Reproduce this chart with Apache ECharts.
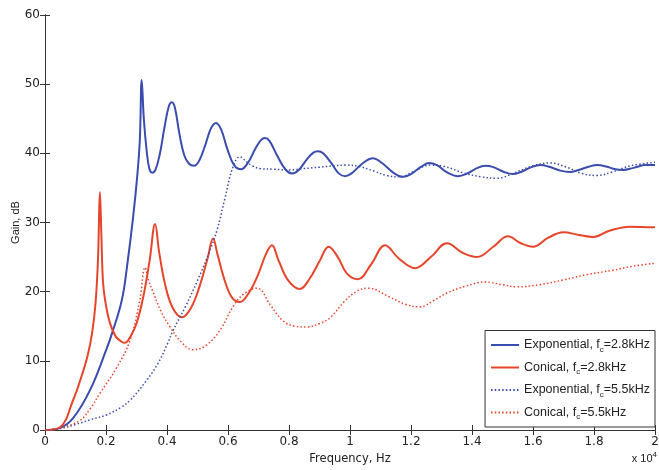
<!DOCTYPE html>
<html>
<head>
<meta charset="utf-8">
<script src="https://cdn.jsdelivr.net/npm/echarts@6/dist/echarts.min.js"></script>
<style>
  html, body { margin: 0; padding: 0; background: #fff; }
  #chart { width: 659px; height: 470px; }
</style>
</head>
<body>
<div id="chart"></div>
<script>
// frequency in units of 1e4 Hz, gain in dB
const expSlow = [[0,0],[0.05,0.3],[0.092,1.7],[0.148,5.8],[0.2,11.5],[0.22,14],[0.252,18.8],[0.27,24],[0.289,30.8],[0.303,37],[0.311,42],[0.317,50.6],[0.324,45],[0.333,40.5],[0.342,37.8],[0.352,37.2],[0.362,37.6],[0.376,39.8],[0.392,43.8],[0.406,46.8],[0.416,47.4],[0.426,46.6],[0.44,43],[0.456,39.8],[0.472,38.5],[0.489,38.2],[0.505,38.9],[0.524,41],[0.544,43.6],[0.561,44.4],[0.578,43.4],[0.598,40.6],[0.62,38.3],[0.643,37.7],[0.665,38.6],[0.69,40.7],[0.708,41.9],[0.721,42.2],[0.736,41.8],[0.762,39.6],[0.788,37.7],[0.81,37.1],[0.832,37.6],[0.858,39.1],[0.88,40.1],[0.895,40.3],[0.912,40],[0.94,38.5],[0.963,37.1],[0.984,36.7],[1.005,37.1],[1.04,38.5],[1.075,39.3],[1.105,38.6],[1.145,37.1],[1.174,36.6],[1.2,37],[1.235,38.1],[1.259,38.6],[1.285,38.3],[1.32,37.2],[1.354,36.7],[1.385,37.1],[1.418,37.9],[1.443,38.2],[1.47,38],[1.505,37.3],[1.534,37.0],[1.56,37.3],[1.595,38],[1.623,38.3],[1.65,38.1],[1.69,37.5],[1.721,37.3],[1.75,37.6],[1.785,38.1],[1.81,38.3],[1.84,38.1],[1.87,37.7],[1.895,37.6],[1.93,37.9],[1.97,38.3],[2,38.3]]
const conSlow = [[0,0],[0.049,0.4],[0.092,4.3],[0.12,7.8],[0.14,10.8],[0.155,14.2],[0.166,18.5],[0.174,25],[0.18,34.4],[0.185,28],[0.19,21.5],[0.197,18.8],[0.212,15.6],[0.232,13.5],[0.25,12.8],[0.262,12.6],[0.28,13.5],[0.3,15.4],[0.322,19.2],[0.343,24.5],[0.361,29.8],[0.374,25.8],[0.393,21.2],[0.418,17.7],[0.449,16.3],[0.478,17.6],[0.507,20.8],[0.533,24.8],[0.551,27.7],[0.565,25.5],[0.59,21.5],[0.614,19.1],[0.639,18.5],[0.668,19.8],[0.698,22.4],[0.724,25.4],[0.744,26.7],[0.765,24.6],[0.798,21.6],[0.836,20.4],[0.868,21.9],[0.9,24.4],[0.93,26.5],[0.96,25],[0.99,22.6],[1.026,21.8],[1.07,24],[1.115,26.7],[1.16,24.8],[1.213,23.4],[1.265,25],[1.318,27.0],[1.37,25.6],[1.416,25.0],[1.47,26.5],[1.518,28.0],[1.56,27.0],[1.6,26.5],[1.65,27.8],[1.7,28.6],[1.75,28.2],[1.797,27.9],[1.85,28.8],[1.918,29.4],[2,29.3]]
const expFast = [[0,0],[0.05,0.2],[0.1,0.8],[0.15,1.5],[0.203,2.2],[0.25,3.3],[0.279,4.3],[0.33,7],[0.37,9.6],[0.403,12.6],[0.42,14.4],[0.46,17.8],[0.5,21.6],[0.541,26],[0.564,28.9],[0.59,33.5],[0.616,38],[0.639,39.5],[0.66,38.8],[0.68,38.2],[0.705,37.8],[0.75,37.7],[0.8,37.6],[0.85,37.8],[0.9,38.0],[0.95,38.2],[0.984,38.3],[1.03,38.1],[1.08,37.4],[1.12,36.8],[1.164,36.6],[1.21,37.4],[1.262,38.3],[1.31,38.1],[1.37,37.2],[1.43,36.6],[1.482,36.4],[1.54,37.2],[1.6,38.2],[1.656,38.6],[1.71,38.0],[1.76,37.1],[1.81,36.8],[1.86,37.3],[1.92,38.2],[2,38.7]]
const conFast = [[0,0],[0.05,0.3],[0.115,1.4],[0.15,3.2],[0.18,5.3],[0.236,9.1],[0.279,13],[0.311,18.8],[0.328,23.5],[0.34,21.6],[0.354,20],[0.38,17.2],[0.41,14.9],[0.445,12.8],[0.485,11.6],[0.53,12.3],[0.575,14.5],[0.616,17.8],[0.65,19.6],[0.695,20.5],[0.74,18],[0.78,15.8],[0.82,15.0],[0.859,14.9],[0.9,15.4],[0.934,16.2],[0.98,18.5],[1.02,20],[1.059,20.5],[1.131,19.2],[1.18,18.2],[1.23,17.8],[1.27,18.6],[1.318,19.8],[1.38,20.8],[1.443,21.4],[1.5,21],[1.548,20.7],[1.62,21],[1.7,21.7],[1.78,22.5],[1.862,23.1],[1.93,23.7],[2,24.1]]

const seriesNames = ['Exponential, fc=2.8kHz', 'Conical, fc=2.8kHz', 'Exponential, fc=5.5kHz', 'Conical, fc=5.5kHz']
const xTicks = { min: 0, max: 2, interval: 0.2 }
const yTicks = { min: 0, max: 60, interval: 10 }

const BLUE = '#3a4cae'
const RED = '#e6452b'
const FONT = 'Liberation Sans, Arial, sans-serif'
const TICK_FONT = 'DejaVu Sans, sans-serif'

const myChart = echarts.init(document.getElementById('chart'))

// 四周的框线和朝内的刻度
const boxAxis = (extra) => Object.assign({
  type: 'value',
  axisLine: { show: true, lineStyle: { color: '#333', width: 1 } },
  axisTick: { show: true, inside: true, length: 5, lineStyle: { color: '#333' } },
  axisLabel: { show: false },
  splitLine: { show: false }
}, extra)

const makeSeries = (name, data, color, dotted) => ({
  name: name,
  type: 'line',
  data: data,
  symbol: 'none',
  smooth: 0.4,
  animation: false,
  lineStyle: dotted ? { color: color, width: 1.5, type: [1.5, 2.2] } : { color: color, width: 2 },
  itemStyle: { color: color }
})

const options = {
  animation: false,
  grid: { left: 45, right: 4, top: 15, bottom: 40, outerBoundsMode: 'none' },
  xAxis: [
    boxAxis({
      min: xTicks.min, max: xTicks.max, interval: xTicks.interval,
      position: 'bottom',
      axisLabel: { show: true, color: '#222', fontSize: 12, fontFamily: TICK_FONT, margin: 6 },
      name: 'Frequency, Hz',
      nameLocation: 'middle',
      nameGap: 14,
      nameTextStyle: { color: '#222', fontSize: 11.5, fontFamily: TICK_FONT }
    }),
    boxAxis({ min: xTicks.min, max: xTicks.max, interval: xTicks.interval, position: 'top' })
  ],
  yAxis: [
    boxAxis({
      min: yTicks.min, max: yTicks.max, interval: yTicks.interval,
      position: 'left',
      axisLabel: { show: true, color: '#222', fontSize: 12, fontFamily: TICK_FONT, margin: 5 },
      name: 'Gain, dB',
      nameLocation: 'middle',
      nameGap: 24,
      nameMoveOverlap: false,
      nameTextStyle: { color: '#222', fontSize: 11, fontFamily: FONT }
    }),
    boxAxis({ min: yTicks.min, max: yTicks.max, interval: yTicks.interval, position: 'right' })
  ],
  legend: {
    orient: 'vertical',
    right: 4,
    bottom: 43,
    padding: [8, 5, 6, 5],
    itemWidth: 28,
    itemHeight: 10,
    itemGap: 7.5,
    itemStyle: { opacity: 0 },
    backgroundColor: '#fff',
    borderColor: '#333',
    borderWidth: 1,
    borderRadius: 0,
    data: seriesNames,
    formatter: (name) => name.replace('fc=', 'f{sub|c}='),
    textStyle: {
      color: '#222',
      fontSize: 12.5,
      fontFamily: FONT,
      rich: {
        sub: { fontSize: 8, fontFamily: FONT, color: '#222', verticalAlign: 'bottom', padding: [9, 0, 0, 0] }
      }
    }
  },
  graphic: [{
    type: 'text',
    right: 2,
    top: 451,
    style: {
      text: 'x 10{sup|4}',
      fill: '#222',
      font: '11px ' + FONT,
      rich: { sup: { fontSize: 8, fontFamily: FONT, fill: '#222', verticalAlign: 'top', padding: [0, 0, 7, 0] } }
    }
  }],
  series: [
    makeSeries(seriesNames[0], expSlow, BLUE, false),
    makeSeries(seriesNames[1], conSlow, RED, false),
    makeSeries(seriesNames[2], expFast, BLUE, true),
    makeSeries(seriesNames[3], conFast, RED, true)
  ]
}

myChart.setOption(options)
</script>
</body>
</html>
